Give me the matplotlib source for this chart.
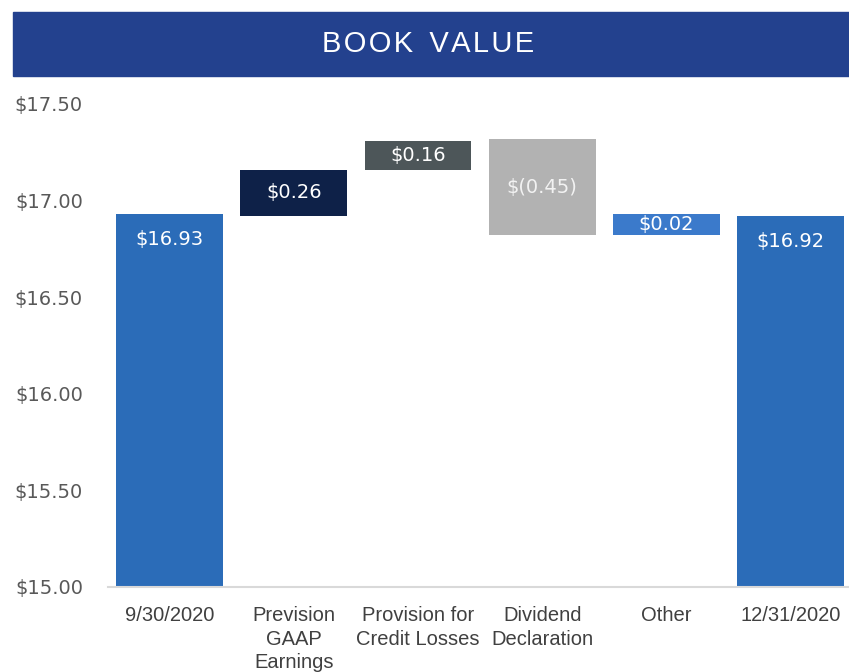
import matplotlib.pyplot as plt
from matplotlib.patches import Rectangle

# data
categories = ["9/30/2020", "Prevision\nGAAP\nEarnings", "Provision for\nCredit Losses",
              "Dividend\nDeclaration", "Other", "12/31/2020"]
label_values = [16.93, 0.26, 0.16, -0.45, 0.02, 16.92]
bar_low = [15.00, 16.92, 17.16, 16.82, 16.82, 15.00]
bar_high = [16.93, 17.16, 17.31, 17.32, 16.93, 16.92]
yticks = [15.00, 15.50, 16.00, 16.50, 17.00, 17.50]

colors = ["#2B6CB8", "#0E2148", "#4D5659", "#B2B2B2", "#3B7ACB", "#2B6CB8"]
label_colors = ["white", "white", "white", "#F2F2F2", "white", "white"]


def fmt(v):
    if v < 0:
        return f"$({abs(v):.2f})"
    return f"${v:.2f}"


narrow = ["Liberation Sans", "DejaVu Sans"]

fig = plt.figure(figsize=(8.49, 6.72), dpi=100)
ax = fig.add_axes([108 / 849, 85 / 672, 741 / 849, 483 / 672])

x = list(range(len(categories)))
heights = [h - l for h, l in zip(bar_high, bar_low)]
ax.bar(x, heights, bottom=bar_low, width=0.86, color=colors, zorder=2)

for i, v in enumerate(label_values):
    if i in (0, len(categories) - 1):
        y = bar_high[i] - 0.13
    else:
        y = (bar_low[i] + bar_high[i]) / 2
    ax.text(i, y, fmt(v), ha="center", va="center", color=label_colors[i],
            fontsize=14, zorder=3)

ax.set_ylim(15.0, 17.5)
ax.set_xlim(-0.495, 5.47)
ax.set_yticks(yticks)
ax.set_yticklabels([f"${t:.2f}" for t in yticks], fontsize=14, color="#595959")
ax.tick_params(axis="y", length=0, pad=18)
ax.set_xticks(x)
ax.set_xticklabels(categories, fontsize=14.5, color="#404040", family=narrow,
                   linespacing=1.3)
ax.tick_params(axis="x", length=0, pad=14)

for s in ["top", "right", "left"]:
    ax.spines[s].set_visible(False)
ax.spines["bottom"].set_color("#D9D9D9")
ax.spines["bottom"].set_linewidth(1.5)

# title banner
fig.patches.append(Rectangle((13 / 849, 596 / 672), 836 / 849, 64 / 672,
                             transform=fig.transFigure, color="#23418E"))
fig.text(0.5 + 4 / 849, 628 / 672, "B\u200aO\u200aO\u200aK  V\u200aA\u200aL\u200aU\u200aE",
         ha="center", va="center", color="white", fontsize=21, family=narrow)

fig.savefig("out.png", dpi=100)
